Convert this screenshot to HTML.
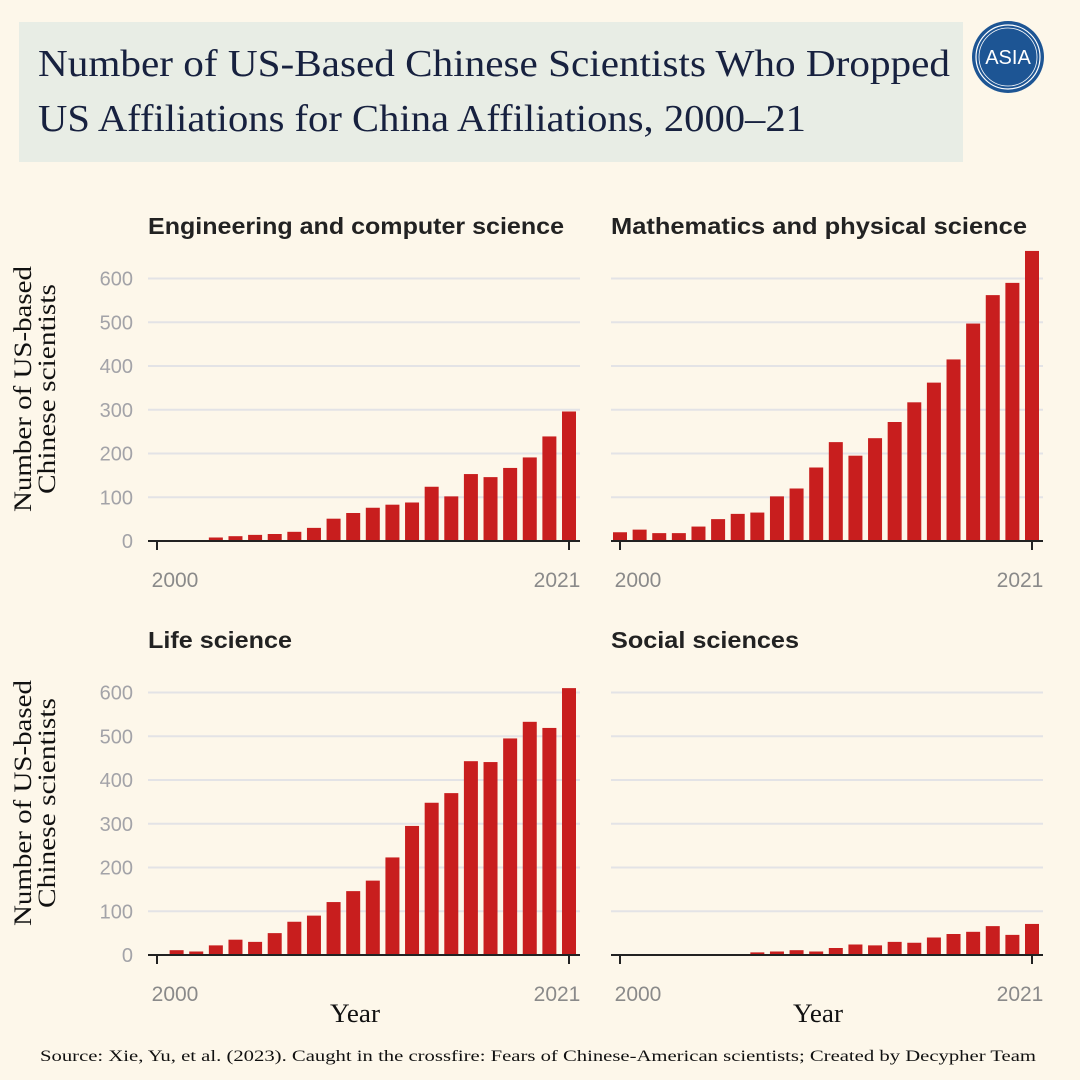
<!DOCTYPE html>
<html><head><meta charset="utf-8">
<style>
body{margin:0;background:#fdf7ea;}
#wrap{position:relative;width:1080px;height:1080px;background:#fdf7ea;overflow:hidden;font-family:"Liberation Sans",sans-serif;}
#title{position:absolute;left:19px;top:22px;width:944px;height:140px;background:#e8ede5;}
</style></head>
<body>
<div id="wrap">
 <div id="title"></div>
 <svg width="1080" height="1080" style="position:absolute;left:0;top:0" id="svg">
  <text x="38" y="76" font-family="Liberation Serif" font-size="38" fill="#17213f" textLength="912" lengthAdjust="spacingAndGlyphs">Number of US-Based Chinese Scientists Who Dropped</text>
  <text x="38" y="131" font-family="Liberation Serif" font-size="38" fill="#17213f" textLength="768" lengthAdjust="spacingAndGlyphs">US Affiliations for China Affiliations, 2000–21</text>
  <g>
   <circle cx="1008" cy="57" r="36" fill="#1d5594"/>
   <circle cx="1008" cy="57" r="32" fill="none" stroke="#fff" stroke-width="1.2"/>
   <circle cx="1008" cy="57" r="29" fill="none" stroke="#fff" stroke-width="0.8"/>
   <text x="1008" y="64" text-anchor="middle" fill="#fff" font-size="20" font-family="Liberation Sans">ASIA</text>
  </g>
 </svg>
</div>
<script>
const years=[2000,2001,2002,2003,2004,2005,2006,2007,2008,2009,2010,2011,2012,2013,2014,2015,2016,2017,2018,2019,2020,2021];
const engValues=[1,0,2,8,11,14,16,21,30,51,64,76,83,88,124,102,153,146,167,191,239,296];
const mathValues=[20,26,18,18,33,50,62,65,102,120,168,226,195,235,272,317,362,415,497,562,590,663];
const lifeValues=[2,11,8,22,35,30,50,76,90,121,146,170,223,295,348,370,443,441,495,533,519,610];
const socValues=[0,0,0,0,2,0,0,6,8,11,8,16,24,22,30,28,40,48,53,66,46,71];
const yTicks=[0,100,200,300,400,500,600];
const panelTitles=["Engineering and computer science","Mathematics and physical science","Life science","Social sciences"];
const titleLens=[416,416,144,188];
const NS="http://www.w3.org/2000/svg";
const svg=document.getElementById('svg');
function mk(tag,attrs,parent){const e=document.createElementNS(NS,tag);for(const k in attrs)e.setAttribute(k,attrs[k]);(parent||svg).appendChild(e);return e;}
const panels=[
 {x0:148,x1:580,zero:541,t:0,vals:engValues,labels:true,year:false},
 {x0:611,x1:1043,zero:541,t:1,vals:mathValues,labels:false,year:false},
 {x0:148,x1:580,zero:955,t:2,vals:lifeValues,labels:true,year:true},
 {x0:611,x1:1043,zero:955,t:3,vals:socValues,labels:false,year:true}];
panels.forEach((p,pi)=>{
 const g=mk('g',{});
 
 
 const yS=v=>p.zero-v*0.4375;
 const xS=i=>p.x0+9+i*(p.x1-p.x0-20)/21;
 const t=mk('text',{x:p.x0,y:p.zero-307,'font-size':23,'font-weight':'bold',fill:'#222',textLength:titleLens[p.t],lengthAdjust:'spacingAndGlyphs'},g);t.textContent=panelTitles[p.t];
 
 
 yTicks.forEach(v=>{
  if(v>0){const l=mk('line',{x1:p.x0,x2:p.x1,y1:yS(v),y2:yS(v),stroke:'#e3e3e6','stroke-width':2},g);
  
  }
  if(p.labels){const tl=mk('text',{x:133,y:yS(v)+7,'text-anchor':'end','font-size':20,fill:'#a3a3a8'},g);tl.textContent=v;
  
  }
 });
 p.vals.forEach((v,i)=>{
  const r=mk('rect',{x:xS(i)-7,y:yS(v),width:14,height:v*0.4375,fill:'#c81e1e'},g);
  
  
 });
 const ax=mk('line',{x1:p.x0,x2:p.x1,y1:p.zero,y2:p.zero,stroke:'#222','stroke-width':2},g);
 
 
 [0,21].forEach(i=>{
  mk('line',{x1:xS(i),x2:xS(i),y1:p.zero,y2:p.zero+9,stroke:'#222','stroke-width':2},g);
  const tl=mk('text',{x:xS(i)+(i?-12:18),y:p.zero+46,'text-anchor':'middle','font-size':21,fill:'#8a8a8a'},g);tl.textContent=years[i];
  
  
 });
 if(p.year){const yt=mk('text',{x:(p.x0+p.x1)/2-9,y:p.zero+67,'text-anchor':'middle','font-size':26,fill:'#111','font-family':'Liberation Serif',textLength:50,lengthAdjust:'spacingAndGlyphs'},g);yt.textContent='Year';
  
  }
 if(p.labels){const cy=p.zero-152;const yt=mk('text',{transform:`translate(31,${cy}) rotate(-90)`,'text-anchor':'middle','font-size':25,fill:'#111','font-family':'Liberation Serif'},g);
  const a=mk('tspan',{x:0,y:0,textLength:246,lengthAdjust:'spacingAndGlyphs'},yt);a.textContent='Number of US-based';
  const b=mk('tspan',{x:0,y:24,textLength:210,lengthAdjust:'spacingAndGlyphs'},yt);b.textContent='Chinese scientists';
  
  }
});
const src=mk('text',{x:40,y:1061,'font-size':16,fill:'#111','font-family':'Liberation Serif',textLength:996,lengthAdjust:'spacingAndGlyphs'});
src.textContent='Source: Xie, Yu, et al. (2023). Caught in the crossfire: Fears of Chinese-American scientists; Created by Decypher Team';


</script>
</body></html>
